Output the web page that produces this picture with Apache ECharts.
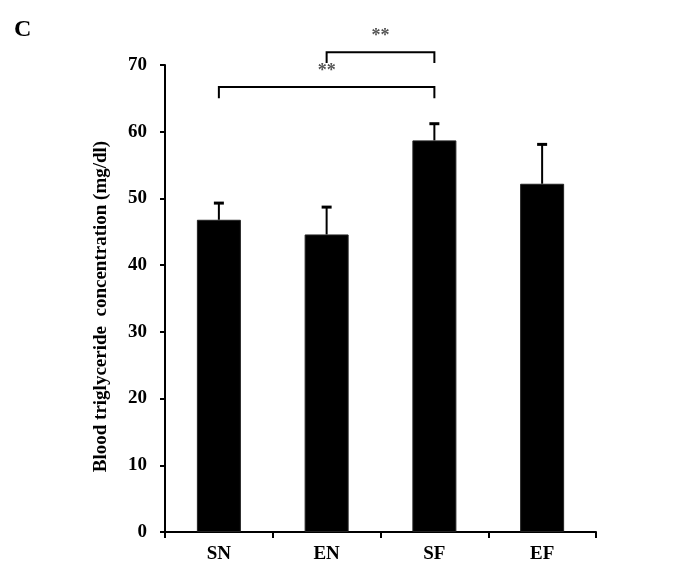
<!DOCTYPE html>
<html>
<head>
<meta charset="utf-8">
<script src="https://cdn.jsdelivr.net/npm/echarts@6/dist/echarts.min.js"></script>
<style>html,body{margin:0;padding:0;background:#fff}#c{width:688px;height:567px}</style>
</head>
<body>
<div id="c"></div>
<script>
var categories = ['SN', 'EN', 'SF', 'EF'];
var means = [46.8, 44.6, 58.7, 52.2];
var errUpper = [49.3, 48.7, 61.2, 58.1];
var yTicks = [0, 10, 20, 30, 40, 50, 60, 70];
var brackets = [
  { from: 'SN', to: 'SF', top: 66.7, leg: 65.0, label: '**' },
  { from: 'EN', to: 'SF', top: 71.9, leg: 70.3, label: '**' }
];

var font = 'Liberation Serif, Times New Roman, serif';
var chart = echarts.init(document.getElementById('c'));
chart.setOption({
  animation: false,
  backgroundColor: '#fff',
  graphic: [{ type: 'text', left: 14, top: 18, style: { text: 'C', font: 'bold 24px ' + font, fill: '#000' } }],
  grid: { left: 165, top: 65, width: 431, bottom: 35, containLabel: false },
  xAxis: {
    type: 'category', data: categories,
    axisLine: { lineStyle: { color: '#000', width: 2 } },
    axisTick: { show: true, alignWithLabel: false, length: 6, lineStyle: { color: '#000', width: 2 } },
    axisLabel: { color: '#000', fontFamily: font, fontWeight: 'bold', fontSize: 19, margin: 13 }
  },
  yAxis: {
    type: 'value', min: yTicks[0], max: yTicks[yTicks.length - 1], interval: 10,
    name: 'Blood triglyceride  concentration (mg/dl)', nameLocation: 'middle', nameGap: 54,
    nameTextStyle: { color: '#000', fontFamily: font, fontWeight: 'bold', fontSize: 19, padding: [0, 16, 0, 0] },
    axisLine: { show: true, lineStyle: { color: '#000', width: 2 } },
    axisTick: { show: true, length: 5, lineStyle: { color: '#000', width: 2 } },
    splitLine: { show: false },
    axisLabel: { color: '#000', fontFamily: font, fontWeight: 'bold', fontSize: 19, margin: 18 }
  },
  series: [
    {
      type: 'bar', data: means, barWidth: 44,
      itemStyle: { color: '#000', borderColor: '#222', borderWidth: 1 }
    },
    {
      type: 'custom',
      data: categories.map(function (c, i) { return [i, means[i], errUpper[i]]; }),
      renderItem: function (params, api) {
        var p0 = api.coord([api.value(0), api.value(1)]);
        var p1 = api.coord([api.value(0), api.value(2)]);
        return { type: 'group', children: [
          { type: 'line', shape: { x1: p0[0], y1: p0[1], x2: p1[0], y2: p1[1] }, style: { stroke: '#000', lineWidth: 2 } },
          { type: 'line', shape: { x1: p1[0] - 5, y1: p1[1], x2: p1[0] + 5, y2: p1[1] }, style: { stroke: '#000', lineWidth: 3 } }
        ]};
      },
      z: 5
    },
    {
      type: 'custom',
      data: brackets.map(function (b) { return [categories.indexOf(b.from), categories.indexOf(b.to), b.top, b.leg]; }),
      renderItem: function (params, api) {
        var a = api.coord([api.value(0), api.value(2)]);
        var b = api.coord([api.value(1), api.value(2)]);
        var al = api.coord([api.value(0), api.value(3)]);
        var bl = api.coord([api.value(1), api.value(3)]);
        var lbl = brackets[params.dataIndex].label;
        return { type: 'group', children: [
          { type: 'polyline', shape: { points: [[al[0], al[1]], [a[0], a[1]], [b[0], b[1]], [bl[0], bl[1]]] },
            style: { stroke: '#000', lineWidth: 2, fill: null } },
          { type: 'text', x: (a[0] + b[0]) / 2, y: a[1] - 7,
            style: { text: lbl, font: 'bold 18px ' + font, fill: '#555', align: 'center', verticalAlign: 'bottom' } }
        ]};
      },
      clip: false, z: 6
    }
  ]
});
</script>
</body>
</html>
